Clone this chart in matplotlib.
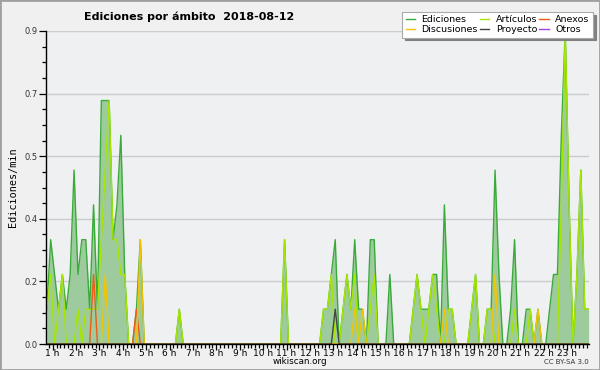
import matplotlib
matplotlib.use('Agg')
import matplotlib.pyplot as plt
from matplotlib.ticker import FixedLocator, MultipleLocator, FormatStrFormatter
from matplotlib.patches import Rectangle
import numpy as np

# ---- data: 10-minute bins (edits per minute), first bin at 00:45 ----
bin_start_min = 45
bin_step_min = 10

ediciones = [
    0.1, 0.3, 0.2, 0.1, 0.2, 0.1, 0.2, 0.5, 0.2, 0.3,
    0.3, 0.1, 0.4, 0.1, 0.7, 0.7, 0.7, 0.3, 0.4, 0.6,
    0.2, 0, 0, 0.1, 0.3, 0, 0, 0, 0, 0,
    0, 0, 0, 0, 0.1, 0, 0, 0, 0, 0,
    0, 0, 0, 0, 0, 0, 0, 0, 0, 0,
    0, 0, 0, 0, 0, 0, 0, 0, 0, 0,
    0, 0.3, 0, 0, 0, 0, 0, 0, 0, 0,
    0, 0.1, 0.1, 0.2, 0.3, 0, 0.1, 0.2, 0.1, 0.3,
    0.1, 0.1, 0, 0.3, 0.3, 0, 0, 0, 0.2, 0,
    0, 0, 0, 0, 0.1, 0.2, 0.1, 0.1, 0.1, 0.2,
    0.2, 0, 0.4, 0.1, 0.1, 0, 0, 0, 0, 0.1,
    0.2, 0, 0, 0.1, 0.1, 0.5, 0.2, 0, 0, 0.1,
    0.3, 0, 0, 0.1, 0.1, 0, 0.1, 0, 0, 0.1,
    0.2, 0.2, 0.6, 0.9, 0.4, 0, 0.2, 0.5, 0.1, 0.1,
]

articulos = [
    0.1, 0.2, 0, 0.1, 0.2, 0, 0, 0, 0.1, 0,
    0.1, 0.1, 0.1, 0.1, 0.3, 0.5, 0.7, 0.3, 0.3, 0.2,
    0.2, 0, 0, 0, 0, 0, 0, 0, 0, 0,
    0, 0, 0, 0, 0.1, 0, 0, 0, 0, 0,
    0, 0, 0, 0, 0, 0, 0, 0, 0, 0,
    0, 0, 0, 0, 0, 0, 0, 0, 0, 0,
    0, 0.3, 0, 0, 0, 0, 0, 0, 0, 0,
    0, 0.1, 0.1, 0.2, 0, 0, 0.1, 0.2, 0.1, 0.2,
    0, 0, 0, 0.1, 0.2, 0, 0, 0, 0, 0,
    0, 0, 0, 0, 0.1, 0.2, 0.1, 0, 0.1, 0.2,
    0.1, 0, 0, 0.1, 0.1, 0, 0, 0, 0, 0.1,
    0.2, 0, 0, 0.1, 0.1, 0, 0, 0, 0, 0,
    0.1, 0, 0, 0, 0.1, 0, 0, 0, 0, 0,
    0, 0, 0.4, 0.9, 0.4, 0, 0.2, 0.5, 0.1, 0.1,
]

anexos = [0.0] * 140
anexos[12] = 0.2
anexos[23] = 0.1

discusiones = [0.0] * 140
for i, v in [(15, 0.2), (24, 0.3), (79, 0.1), (81, 0.1), (102, 0.1),
             (115, 0.2), (126, 0.1)]:
    discusiones[i] = v

proyecto = [0.0] * 140
proyecto[74] = 0.1

otros = [0.0] * 140

hour_ticks = [60 * h for h in range(1, 24)]
hour_labels = [f"{h} h" for h in range(1, 24)]
y_ticks = [0.0, 0.18, 0.36, 0.54, 0.72, 0.9]

# ---- figure ----
W, H = 600, 370
fig = plt.figure(figsize=(W / 100, H / 100), dpi=100, facecolor='#f0f0f0')
ax = fig.add_axes([46 / W, 26 / H, 543 / W, 313 / H])
ax.set_facecolor('#eef0f1')

x = bin_start_min + bin_step_min * np.arange(len(ediciones))

ax.fill_between(x, 0, ediciones, color='#9ecb9e', lw=0, zorder=1.5)
l_ed, = ax.plot(x, ediciones, color='#3aab3a', lw=1.0, zorder=2)
l_art, = ax.plot(x, articulos, color='#a6e600', lw=1.0, zorder=2.1)
l_anx, = ax.plot(x, anexos, color='#f05a14', lw=1.0, zorder=2.2)
l_dis, = ax.plot(x, discusiones, color='#f5c400', lw=1.0, zorder=2.3)
l_pro, = ax.plot(x, proyecto, color='#444444', lw=1.0, zorder=2.4)
l_otr, = ax.plot(x, otros, color='#9944ee', lw=1.0, zorder=2.05)

ax.set_xlim(43, 1436)
ax.set_ylim(0, 0.9)

for s in ['top', 'right']:
    ax.spines[s].set_visible(False)
for s in ['left', 'bottom']:
    ax.spines[s].set_linewidth(1.0)
    ax.spines[s].set_color('black')
    ax.spines[s].set_zorder(3)

ax.set_xticks(hour_ticks)
ax.set_xticklabels(hour_labels)
ax.xaxis.set_minor_locator(MultipleLocator(10))
ax.tick_params(axis='x', which='major', length=4, width=0.9, labelsize=6.5, pad=-0.3)
ax.tick_params(axis='x', which='minor', length=3, width=0.9)

ax.yaxis.set_major_locator(FixedLocator(y_ticks))
ax.yaxis.set_major_formatter(FormatStrFormatter('%.1f'))
ax.yaxis.set_minor_locator(MultipleLocator(0.045))
ax.tick_params(axis='y', which='major', length=5, width=0.9, labelsize=6,
               pad=1, labelcolor='#333333')
ax.tick_params(axis='y', which='minor', length=3, width=0.9)

ax.yaxis.grid(True, which='major', color='#cccccc', lw=1.0)
ax.set_axisbelow(True)

ax.set_ylabel('Ediciones/min', fontsize=7.3, family='DejaVu Sans Mono')
ax.yaxis.set_label_coords(-28 / 543, 0.5)

fig.text(84 / W, 1 - 17 / H, 'Ediciones por ámbito  2018-08-12',
         fontsize=8, fontweight='bold', ha='left', va='center')
fig.text(0.5, 1 - 362 / H, 'wikiscan.org', fontsize=6.3, ha='center', va='center')
fig.text(589 / W, 1 - 362 / H, 'CC BY-SA 3.0', fontsize=5, ha='right',
         va='center', color='#333333')

handles = [l_ed, l_dis, l_art, l_pro, l_anx, l_otr]
labels = ['Ediciones', 'Discusiones', 'Artículos', 'Proyecto', 'Anexos', 'Otros']
leg = fig.legend(handles, labels, loc='upper right',
                 bbox_to_anchor=(593 / W, 1 - 12 / H), ncol=3, fontsize=6.8,
                 frameon=True, fancybox=False,
                 shadow={'color': '#808080', 'alpha': 1.0},
                 borderpad=0.35, labelspacing=0.1, handlelength=1.0,
                 handletextpad=0.7, columnspacing=0.2, borderaxespad=0)
leg.get_frame().set_edgecolor('#aaaaaa')
leg.get_frame().set_linewidth(0.8)
leg.get_frame().set_facecolor('white')

fig.patches.append(Rectangle((0, 0), 1, 1, transform=fig.transFigure,
                             fill=False, edgecolor='#a0a0a0', lw=2))

fig.savefig('out.png', dpi=100, facecolor=fig.get_facecolor())
